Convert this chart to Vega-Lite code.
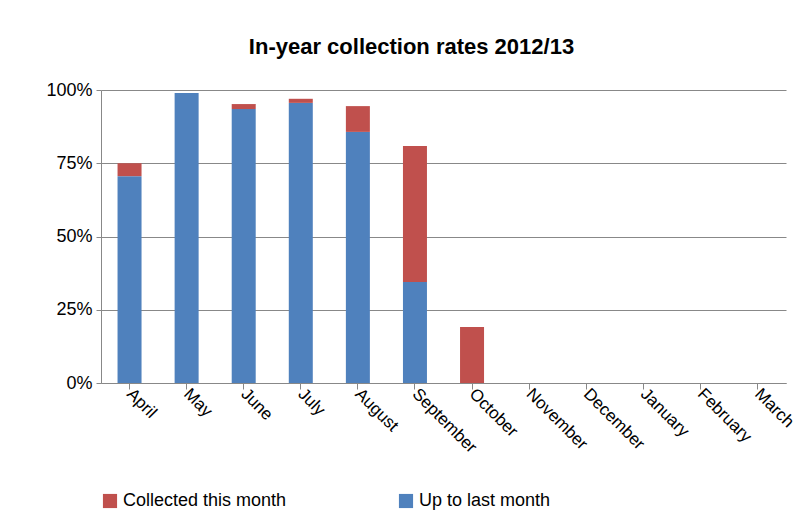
{
  "$schema": "https://vega.github.io/schema/vega-lite/v6.json",
  "width": 685,
  "height": 293,
  "padding": {"left": 45, "top": 36, "right": 14, "bottom": 5},
  "background": "white",
  "title": {"text": "In-year collection rates 2012/13", "font": "Liberation Sans", "fontSize": 22, "fontWeight": "bold", "color": "black", "offset": 22, "dx": -32},
  "config": {"view": {"stroke": null}, "font": "Liberation Sans"},
  "data": {"values": [
    {"month": "April", "series": "Up to last month", "o": 1, "v": 0.706},
    {"month": "April", "series": "Collected this month", "o": 2, "v": 0.044},
    {"month": "May", "series": "Up to last month", "o": 1, "v": 0.99},
    {"month": "May", "series": "Collected this month", "o": 2, "v": 0.0},
    {"month": "June", "series": "Up to last month", "o": 1, "v": 0.935},
    {"month": "June", "series": "Collected this month", "o": 2, "v": 0.017},
    {"month": "July", "series": "Up to last month", "o": 1, "v": 0.956},
    {"month": "July", "series": "Collected this month", "o": 2, "v": 0.014},
    {"month": "August", "series": "Up to last month", "o": 1, "v": 0.857},
    {"month": "August", "series": "Collected this month", "o": 2, "v": 0.088},
    {"month": "September", "series": "Up to last month", "o": 1, "v": 0.345},
    {"month": "September", "series": "Collected this month", "o": 2, "v": 0.464},
    {"month": "October", "series": "Up to last month", "o": 1, "v": 0.0},
    {"month": "October", "series": "Collected this month", "o": 2, "v": 0.191},
    {"month": "November", "series": "Up to last month", "o": 1, "v": 0},
    {"month": "December", "series": "Up to last month", "o": 1, "v": 0},
    {"month": "January", "series": "Up to last month", "o": 1, "v": 0},
    {"month": "February", "series": "Up to last month", "o": 1, "v": 0},
    {"month": "March", "series": "Up to last month", "o": 1, "v": 0}
  ]},
  "mark": {"type": "bar", "width": 24},
  "encoding": {
    "x": {"field": "month", "type": "nominal", "sort": null, "title": null,
      "scale": {"domain": ["April", "May", "June", "July", "August", "September", "October", "November", "December", "January", "February", "March"]},
      "axis": {"labelAngle": 45, "labelAlign": "left", "labelBaseline": "middle", "labelFontSize": 17, "labelColor": "black", "domainColor": "#888", "tickColor": "#888", "tickSize": 6, "labelPadding": 2}},
    "y": {"field": "v", "type": "quantitative", "stack": "zero", "title": null,
      "scale": {"domain": [0, 1]},
      "axis": {"format": "%", "values": [0, 0.25, 0.5, 0.75, 1], "labelFontSize": 18, "labelColor": "black", "gridColor": "#888", "domainColor": "#888", "tickColor": "#888", "labelPadding": 4}},
    "color": {"field": "series", "type": "nominal", "title": null,
      "scale": {"domain": ["Collected this month", "Up to last month"], "range": ["#c0504d", "#4f81bd"]},
      "legend": {"orient": "bottom", "direction": "horizontal", "symbolType": "square", "symbolSize": 200, "labelFontSize": 18, "labelColor": "black", "columnPadding": 110, "offset": 36, "labelLimit": 300}},
    "order": {"field": "o", "type": "quantitative"}
  }
}
